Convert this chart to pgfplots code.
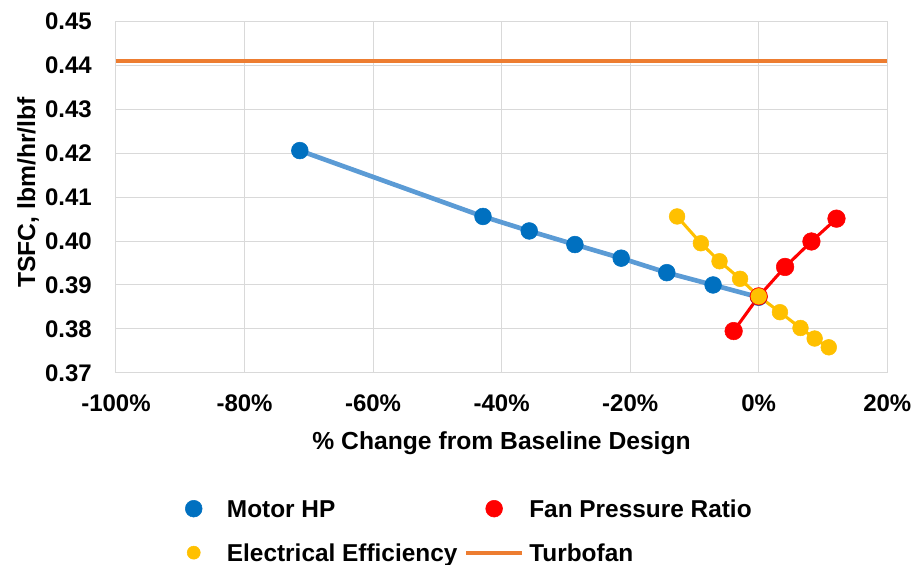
\documentclass[border=0pt]{standalone}
\usepackage{fontspec}
\setmainfont{Liberation Sans}
\usepackage{pgfplots}
\pgfplotsset{compat=1.18}

\definecolor{mhpdot}{HTML}{0070C0}
\definecolor{mhpline}{HTML}{5B9BD5}
\definecolor{fprred}{HTML}{FF0000}
\definecolor{eeyellow}{HTML}{FFC000}
\definecolor{tforange}{HTML}{ED7D31}
\definecolor{gridgray}{HTML}{D9D9D9}
\newcommand{\tickfont}{\bfseries\fontsize{18}{21}\selectfont}
\newcommand{\titlefont}{\bfseries\fontsize{18.5}{22}\selectfont}
\newcommand{\legfont}{\bfseries\fontsize{18.3}{22}\selectfont}

\pgfplotsset{
  dotlegend/.style={legend image code/.code={
      \path[draw=none, fill=none] (0pt,0pt) rectangle (42pt,0pt);
      \path[##1, draw=none, fill=none] plot[only marks] coordinates {(21pt,0pt)};}},
  linelegend/.style={legend image code/.code={\draw[##1] (0pt,0pt) -- (42pt,0pt);}},
}

\begin{document}
\begin{tikzpicture}
\useasboundingbox (-87pt,-144.15pt) rectangle (599.3pt,279.6pt);
\begin{axis}[
  scale only axis,
  width=578.5pt, height=263.5pt,
  xmin=-100, xmax=20, ymin=0.37, ymax=0.45,
  xtick={-100,-80,-60,-40,-20,0,20},
  ytick={0.37,0.38,0.39,0.40,0.41,0.42,0.43,0.44,0.45},
  major tick length=0pt,
  grid=major,
  major grid style={draw=gridgray, line width=0.75pt},
  axis line style={draw=gridgray, line width=0.75pt},
  /pgf/number format/assume math mode=true,
  tick label style={font=\tickfont},
  label style={font=\titlefont},
  xticklabel={\pgfmathprintnumber{\tick}\%},
  yticklabel style={/pgf/number format/.cd, fixed, fixed zerofill, precision=2, /tikz/.cd,
    anchor=east, inner sep=0pt, xshift=-18pt},
  xticklabel style={anchor=base, inner sep=0pt, yshift=-29.2pt},
  xlabel={\% Change from Baseline Design},
  ylabel={TSFC, lbm/hr/lbf},
  xlabel style={at={(axis description cs:0.5,-0.2197)}, anchor=base, inner sep=0pt},
  ylabel style={at={(axis description cs:-0.105,0.513)}, anchor=base, inner sep=0pt},
  legend columns=2,
  legend cell align=left,
  legend style={draw=none, fill=none, inner sep=0pt, outer sep=0pt,
    at={(axis description cs:0.0645,-0.362)}, anchor=north west,
    font=\legfont,
    nodes={inner sep=0pt, text height=13.1pt, text depth=0pt},
    row sep=19.9pt,
    /tikz/every odd column/.append style={column sep=3.9pt},
    /tikz/every even column/.append style={column sep=5pt}},
]
% Motor HP markers
\addplot[only marks, mark=*, mark size=6.3pt, color=mhpdot, dotlegend] coordinates {
  (-71.4,0.4206) (-42.9,0.4056) (-35.7,0.4023) (-28.6,0.3992)
  (-21.4,0.3961) (-14.3,0.3928) (-7.1,0.3900) (0,0.3872)
};
\addlegendentry{Motor HP}
\addplot[forget plot, no marks, color=mhpline, line width=3.5pt] coordinates {
  (-71.4,0.4206) (-42.9,0.4056) (-35.7,0.4023) (-28.6,0.3992)
  (-21.4,0.3961) (-14.3,0.3928) (-7.1,0.3900) (0,0.3872)
};
% Fan Pressure Ratio
\addplot[forget plot, no marks, color=fprred, line width=2.3pt] coordinates {
  (-3.9,0.3795) (0,0.3874) (4.1,0.3941) (8.2,0.3999) (12.1,0.4051)
};
\addplot[only marks, mark=*, mark size=6.6pt, color=fprred, dotlegend,
  legend image post style={mark size=6.3pt}] coordinates {
  (-3.9,0.3795) (0,0.3874) (4.1,0.3941) (8.2,0.3999) (12.1,0.4051)
};
\addlegendentry{Fan Pressure Ratio}
% Electrical Efficiency
\addplot[forget plot, no marks, color=eeyellow, line width=2.3pt] coordinates {
  (-12.7,0.4056) (-9.0,0.3995) (-6.1,0.3954) (-2.9,0.3914) (0,0.3874)
  (3.3,0.3838) (6.5,0.3802) (8.7,0.3778) (10.9,0.3758)
};
\addplot[only marks, mark=*, mark size=5.9pt, color=eeyellow, dotlegend,
  legend image post style={mark size=4.9pt}] coordinates {
  (-12.7,0.4056) (-9.0,0.3995) (-6.1,0.3954) (-2.9,0.3914) (0,0.3874)
  (3.3,0.3838) (6.5,0.3802) (8.7,0.3778) (10.9,0.3758)
};
\addlegendentry{Electrical Efficiency}
% Turbofan
\addplot[no marks, color=tforange, line width=3pt, linelegend] coordinates {
  (-100,0.4409) (20,0.4409)
};
\addlegendentry{Turbofan}
\end{axis}
\end{tikzpicture}
\end{document}
